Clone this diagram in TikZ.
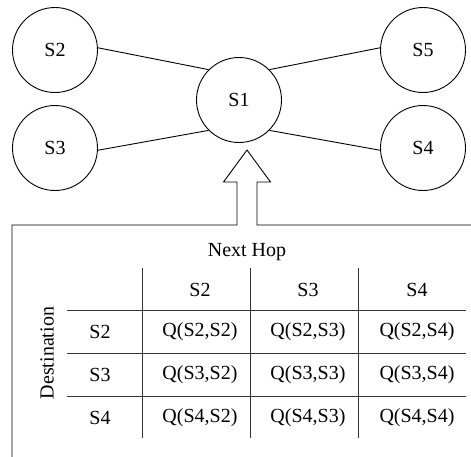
\documentclass[tikz,border=0pt]{standalone}
\usepackage{fontspec}
\setmainfont{Liberation Serif}
\begin{document}
\begin{tikzpicture}[x=1pt,y=-1pt,
  every node/.style={font=\fontsize{20}{23}\selectfont},
  station/.style={draw,circle,minimum size=85pt,inner sep=0pt,line width=0.9pt},
  link/.style={line width=0.9pt},
  grid/.style={line width=0.9pt,draw=black!80}]
\useasboundingbox (0,0) rectangle (471,456);
\node[station] (s2) at (55,50) {S2};
\node[station] (s3) at (55,148) {S3};
\node[station] (s5) at (423,50) {S5};
\node[station] (s4) at (423,148) {S4};
\node[station] (s1) at (239,100) {S1};
\draw[link] (s2.3) -- (s1.135);
\draw[link] (s3.-3) -- (s1.225);
\draw[link] (s5.177) -- (s1.45);
\draw[link] (s4.183) -- (s1.-45);
% block arrow merged into the table frame
\coordinate (tip) at (247,150);
\draw[line width=0.9pt] (471,225) -- (257,225) -- (257,182) -- (270.5,182) -- (tip)
  -- (223.5,182) -- (237,182) -- (237,225) -- (12,225) -- (12,460);
% table
\node (nh) at (247,252) {Next Hop};
\node[rotate=90] (dest) at (47,353) {Destination};
\foreach \x in {142,250,358} \draw[grid] (\x,268) -- (\x,438);
\foreach \y in {310,353,396} \draw[grid] (67,\y) -- (466,\y);
\node (h2) at (200,290) {S2};
\node (h3) at (308,290) {S3};
\node (h4) at (417,290) {S4};
\node (r2) at (100,332) {S2};
\node (r3) at (100,375) {S3};
\node (r4) at (100,418) {S4};
\foreach \r/\y in {2/332,3/375,4/418}{
  \node (q\r2) at (200,\y) {Q(S\r,S2)};
  \node (q\r3) at (308,\y) {Q(S\r,S3)};
  \node (q\r4) at (417,\y) {Q(S\r,S4)};
}
\end{tikzpicture}
\end{document}
